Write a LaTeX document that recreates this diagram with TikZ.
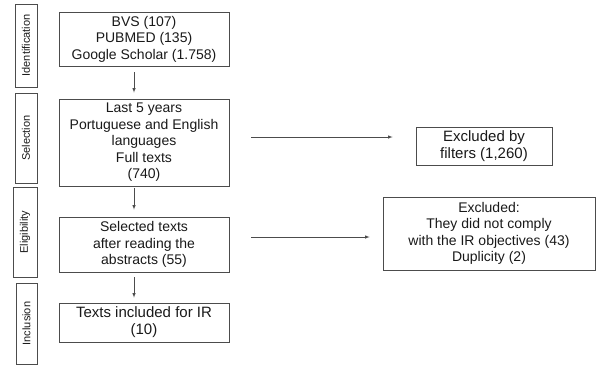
\documentclass[tikz,border=0pt]{standalone}
\usepackage{fontspec}
\setmainfont{Liberation Sans}
\usetikzlibrary{positioning}
\definecolor{lineclr}{rgb}{0.3, 0.3, 0.3}
\definecolor{txtclr}{rgb}{0.1, 0.1, 0.1}
\tikzset{ %
  ,>=latex
  ,every node/.style={text=txtclr}
  ,box/.style={draw=lineclr, line width=0.8pt, align=center, inner sep=0, font=\fontsize{14}{16.5}\selectfont}
  ,bigbox/.style={box, font=\fontsize{15}{17}\selectfont}
  ,stage/.style={draw=lineclr, line width=0.8pt, inner sep=0, minimum height=22pt, rotate=90, font=\fontsize{11}{13}\selectfont}
  ,flow/.style={->, draw=lineclr, line width=0.6pt}
}
\begin{document}
\begin{tikzpicture}
      \useasboundingbox (0pt,0pt) rectangle (596pt,-365pt);
      % stages on the left
      \node[stage, minimum width=83pt] (ident) at (26pt,-45.5pt) {Identification};
      \node[stage, minimum width=90pt] (selec) at (26pt,-138pt) {Selection};
      \node[stage, minimum width=90pt, minimum height=24pt] (elig) at (25pt,-232pt) {Eligibility};
      \node[stage, minimum width=81pt, minimum height=21pt] (incl) at (26.5pt,-323.5pt) {Inclusion};
      % main column
      \node[box, minimum width=170pt, minimum height=54pt] (search) at (144pt,-39pt) {BVS (107)\\PUBMED (135)\\Google Scholar (1.758)};
      \node[box, minimum width=170pt, minimum height=87pt] (filter) at (144pt,-142.5pt) {Last 5 years\\Portuguese and English\\languages\\Full texts\\(740)};
      \node[box, minimum width=170pt, minimum height=55pt] (abstr) at (144pt,-244.5pt) {Selected texts\\after reading the\\abstracts (55)};
      \node[bigbox, minimum width=170pt, minimum height=39pt] (final) at (144pt,-322.5pt) {Texts included for IR\\(10)};
      % excluded
      \node[bigbox, minimum width=136pt, minimum height=38pt] (exfilt) at (484pt,-146pt) {Excluded by\\filters (1,260)};
      \node[box, minimum width=212pt, minimum height=73pt] (exobj) at (489pt,-233.5pt) {Excluded:\\They did not comply\\with the IR objectives (43)\\Duplicity (2)};
      \draw[flow, shorten <=6pt, shorten >=6pt] ([xshift=-10pt]search.south) -- ([xshift=-10pt]filter.north);
      \draw[flow, shorten <=2pt, shorten >=7pt] ([xshift=-10pt]filter.south) -- ([xshift=-10pt]abstr.north);
      \draw[flow, shorten <=5pt, shorten >=5pt] ([xshift=-10pt]abstr.south) -- ([xshift=-10pt]final.north);
      \draw[flow, shorten <=22pt, shorten >=23pt] ([yshift=5.5pt]filter.east) coordinate (f1) -- (exfilt.west |- f1);
      \draw[flow, shorten <=22pt, shorten >=13pt] ([yshift=7.5pt]abstr.east) coordinate (a1) -- (exobj.west |- a1);
    \end{tikzpicture}
\end{document}
